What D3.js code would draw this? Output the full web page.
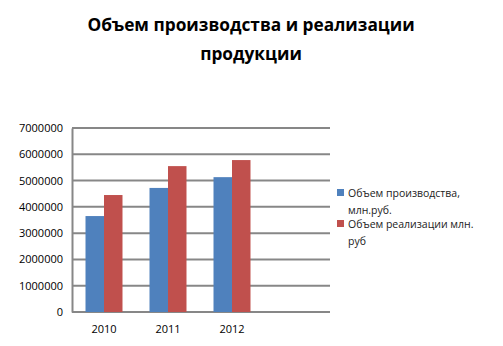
<!DOCTYPE html>
<html>
<head>
<meta charset="utf-8">
<script src="https://cdn.jsdelivr.net/npm/d3@7"></script>
<style>
  body { margin: 0; background: #fff; }
  text { font-family: "Open Sans", "DejaVu Sans", sans-serif; }
</style>
</head>
<body>
<div id="chart"></div>
<script>
var years = ["2010", "2011", "2012", ""];
var production = [3650000, 4720000, 5130000];
var sales = [4450000, 5550000, 5780000];
var seriesNames = [["Объем производства,", "млн.руб."], ["Объем реализации млн.", "руб"]];
var yTicks = [0, 1000000, 2000000, 3000000, 4000000, 5000000, 6000000, 7000000];
var colors = ["#4F81BD", "#C0504D"];

var width = 503, height = 346;
var margin = { top: 128, left: 72, right: 175, bottom: 34 };

var svg = d3.select("#chart").append("svg")
    .attr("width", width)
    .attr("height", height);

// title
svg.append("text")
    .attr("x", 251).attr("y", 31)
    .attr("text-anchor", "middle")
    .attr("font-size", "17.3px")
    .attr("font-weight", "bold")
    .text("Объем производства и реализации");
svg.append("text")
    .attr("x", 251).attr("y", 60)
    .attr("text-anchor", "middle")
    .attr("font-size", "17.3px")
    .attr("font-weight", "bold")
    .text("продукции");

var x = d3.scaleBand()
    .domain(years)
    .range([margin.left, width - margin.right]);

var x1 = d3.scaleBand()
    .domain([0, 1])
    .range([0, x.bandwidth()])
    .paddingOuter(0.73)
    .paddingInner(0);

var y = d3.scaleLinear()
    .domain([0, 7000000])
    .range([height - margin.bottom, margin.top]);

// gridlines
svg.append("g")
    .selectAll("line")
    .data(yTicks)
    .enter().append("line")
    .attr("x1", margin.left)
    .attr("x2", width - margin.right + 2)
    .attr("y1", function (d) { return y(d); })
    .attr("y2", function (d) { return y(d); })
    .attr("stroke", "#878787")
    .attr("stroke-width", 2);

// y axis
var yAxis = svg.append("g")
    .attr("transform", "translate(" + margin.left + ",0)")
    .call(d3.axisLeft(y).tickValues(yTicks).tickSize(0).tickPadding(9).tickFormat(d3.format("d")));
yAxis.select(".domain").attr("stroke", "#878787").attr("stroke-width", 2);
yAxis.selectAll("text").attr("font-size", "11px").attr("fill", "#000")
    .style("font-family", "'Open Sans', sans-serif");

// x axis labels
var xAxis = svg.append("g")
    .attr("transform", "translate(0," + (height - margin.bottom) + ")")
    .call(d3.axisBottom(x).tickSize(0).tickPadding(13));
xAxis.select(".domain").remove();
xAxis.selectAll("text").attr("font-size", "11px").attr("fill", "#000")
    .style("font-family", "'Open Sans', sans-serif");

// bars
var data = years.slice(0, 3).map(function (yr, i) {
    return { year: yr, values: [production[i], sales[i]] };
});

var groups = svg.selectAll(".grp")
    .data(data)
    .enter().append("g")
    .attr("class", "grp")
    .attr("transform", function (d) { return "translate(" + x(d.year) + ",0)"; });

groups.selectAll("rect")
    .data(function (d) { return d.values; })
    .enter().append("rect")
    .attr("x", function (d, i) { return x1(i); })
    .attr("width", x1.bandwidth())
    .attr("y", function (d) { return y(d); })
    .attr("height", function (d) { return y(0) - y(d); })
    .attr("fill", function (d, i) { return colors[i]; });

// legend
var legend = svg.selectAll(".legend")
    .data(seriesNames)
    .enter().append("g")
    .attr("class", "legend")
    .attr("transform", function (d, i) { return "translate(337," + (189 + i * 31) + ")"; });

legend.append("rect")
    .attr("width", 7).attr("height", 7)
    .attr("fill", function (d, i) { return colors[i]; });

legend.each(function (d) {
    var t = d3.select(this).append("text")
        .attr("x", 11).attr("y", 8)
        .attr("font-size", "10.5px")
        .attr("fill", "#222");
    d.forEach(function (line, k) {
        t.append("tspan").attr("x", 11).attr("dy", k === 0 ? 0 : 17).text(line);
    });
});
</script>
</body>
</html>
